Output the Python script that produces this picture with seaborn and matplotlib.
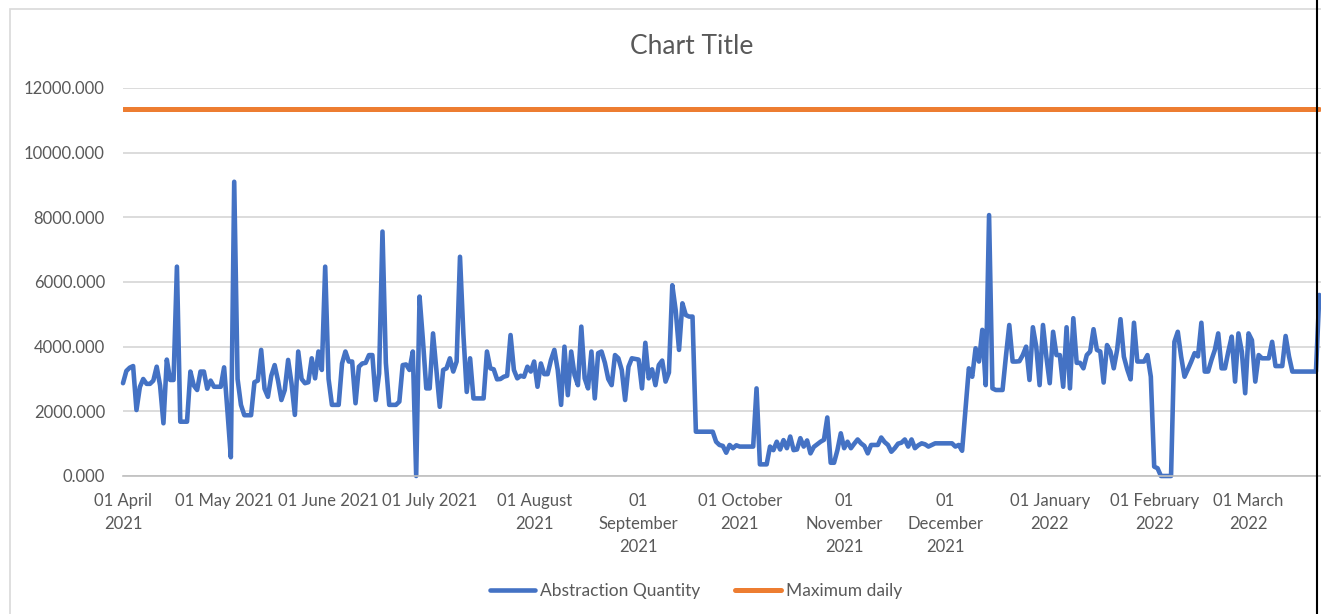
import pandas as pd
import seaborn as sns
import matplotlib.pyplot as plt
from matplotlib.lines import Line2D
from matplotlib.patches import Rectangle

# daily abstraction values
apr = [2870, 3250, 3350, 3400, 2040, 2750, 3000, 2850, 2850, 2950,
       3380, 2800, 1630, 3600, 2970, 2970, 6475, 1680, 1680, 1680,
       3230, 2800, 2660, 3230, 3230, 2700, 2950, 2760, 2760, 2760]
may = [3360, 2000, 580, 9100, 3000, 2200, 1880, 1880, 1880, 2900,
       2950, 3900, 2700, 2450, 3100, 3430, 2950, 2350, 2660, 3590,
       2870, 1890, 3850, 3000, 2870, 2900, 3640, 3020, 3850, 3280, 6475]
jun = [3000, 2200, 2200, 2200, 3480, 3850, 3540, 3540, 2250, 3380,
       3480, 3500, 3740, 3740, 2350, 3170, 7560, 3500, 2200, 2200,
       2200, 2300, 3430, 3450, 3280, 3850, 0, 5550, 4200, 2710]
jul = [2710, 4410, 3280, 2140, 3280, 3330, 3640, 3230, 3540, 6780,
       4400, 2600, 3640, 2400, 2400, 2400, 2400, 3850, 3330, 3300,
       2990, 3000, 3070, 3100, 4360, 3280, 3020, 3100, 3070, 3380, 3230]
aug = [3540, 2760, 3480, 3150, 3150, 3590, 3900, 3280, 2200, 4000,
       2500, 3850, 3120, 2810, 4620, 3020, 2710, 3850, 2400, 3800,
       3850, 3500, 3000, 2810, 3740, 3640, 3280, 2350, 3380, 3640, 3620]
sep = [3600, 2710, 4120, 3020, 3300, 2810, 3430, 3570, 2920, 3200,
       5900, 5130, 3900, 5340, 4980, 4930, 4930, 1370, 1370, 1370,
       1370, 1370, 1370, 1060, 960, 930, 720, 960, 860, 950]
oct_ = [910, 910, 910, 910, 910, 2710, 360, 360, 360, 910,
        800, 1060, 820, 1110, 860, 1220, 800, 820, 1170, 910,
        1100, 700, 900, 980, 1060, 1120, 1810, 410, 410, 800, 1320]
nov = [860, 1060, 860, 1000, 1130, 1010, 930, 700, 960, 960,
       960, 1190, 1050, 960, 750, 860, 1000, 1030, 1130, 910,
       1130, 860, 950, 1010, 980, 910, 960, 1010, 1010, 1010]
dec = [1010, 1010, 1010, 910, 960, 780, 2040, 3330, 3070, 3950,
       3540, 4520, 2810, 8070, 2710, 2660, 2660, 2660, 3700, 4670,
       3540, 3540, 3550, 3740, 4000, 2970, 4600, 4000, 2810, 4670, 3690]
jan = [2870, 4460, 3740, 3740, 2760, 4600, 2710, 4880, 3500, 3500,
       3330, 3740, 3850, 4540, 3900, 3850, 2890, 4050, 3850, 3330,
       3900, 4850, 3690, 3300, 2990, 4740, 3540, 3540, 3540, 3740, 3070]
feb = [290, 240, 0, 0, 0, 0, 4150, 4460, 3690, 3070,
       3300, 3540, 3800, 3700, 4740, 3230, 3230, 3590, 3900, 4410,
       3330, 3330, 3850, 4310, 2920, 4410, 3850, 2560]
mar = [4410, 4200, 2920, 3740, 3640, 3640, 3640, 4150, 3400, 3400,
       3400, 4330, 3700, 3230, 3230, 3230, 3230, 3230, 3230, 3230,
       3230, 5600]

max_daily = 11350

tick_labels = ['01 April\n2021', '01 May 2021', '01 June 2021', '01 July 2021',
               '01 August\n2021', '01\nSeptember\n2021', '01 October\n2021',
               '01\nNovember\n2021', '01\nDecember\n2021', '01 January\n2022',
               '01 February\n2022', '01 March\n2022']

abstraction = apr + may + jun + jul + aug + sep + oct_ + nov + dec + jan + feb + mar
dates = pd.date_range('2021-04-01', periods=len(abstraction), freq='D')
df = pd.DataFrame({'date': dates,
                   'Abstraction Quantity': abstraction,
                   'Maximum daily': max_daily})

sns.set_style('white')
plt.rcParams['font.family'] = ['Lato', 'DejaVu Sans']

W, H = 1321, 614
fig = plt.figure(figsize=(W / 100, H / 100), dpi=100)
ax = fig.add_axes([123 / W, 1 - 476 / H, 1 - 123 / W, (476 - 88) / H])

sns.lineplot(data=df, x='date', y='Abstraction Quantity', color='#4472C4',
             linewidth=3.3, ax=ax, label='Abstraction Quantity', clip_on=False)
sns.lineplot(data=df, x='date', y='Maximum daily', color='#ED7D31',
             linewidth=3.6, ax=ax, label='Maximum daily')

ax.set_ylim(0, 12000)
yt = list(range(0, 12001, 2000))
ax.set_yticks(yt)
ax.set_yticklabels([f'{v:.3f}' for v in yt])
ax.set_xlim(dates[0], dates[0] + pd.Timedelta(days=355.5))
ax.set_xticks(pd.date_range('2021-04-01', '2022-03-01', freq='MS'))
ax.set_xticklabels(tick_labels)
for lbl in ax.get_xticklabels():
    lbl.set_linespacing(1.55)

ax.set_xlabel('')
ax.set_ylabel('')
ax.grid(axis='y', color='#D9D9D9', linewidth=1.3)
ax.grid(axis='x', visible=False)
for s in ['top', 'right', 'left']:
    ax.spines[s].set_visible(False)
ax.spines['bottom'].set_color('#BFBFBF')
ax.spines['bottom'].set_linewidth(1.2)
ax.tick_params(axis='x', length=5, width=1.2, color='#BFBFBF', pad=7,
               labelsize=12, labelcolor='#595959')
ax.tick_params(axis='y', length=0, pad=13, labelsize=12, labelcolor='#595959')

handles, labels = ax.get_legend_handles_labels()
ax.get_legend().remove()
fig.legend(handles, labels, loc='center', bbox_to_anchor=(696 / W, 1 - 591 / H),
           ncol=2, frameon=False, fontsize=12.5, handlelength=2.6,
           handletextpad=0.3, columnspacing=2.0, labelcolor='#595959')

fig.text(692 / W, 1 - 46 / H, 'Chart Title', ha='center', va='center',
         fontsize=19, color='#595959')

# chart area border and the cut edge on the right
fig.add_artist(Rectangle((10 / W, -0.05), 1.0, 1.05 - 9 / H, transform=fig.transFigure,
                         fill=False, edgecolor='#D9D9D9', linewidth=1.2))
fig.add_artist(Line2D([1317 / W, 1317 / W], [0, 1], color='black', linewidth=1.5))

fig.savefig('out.png', dpi=100)
